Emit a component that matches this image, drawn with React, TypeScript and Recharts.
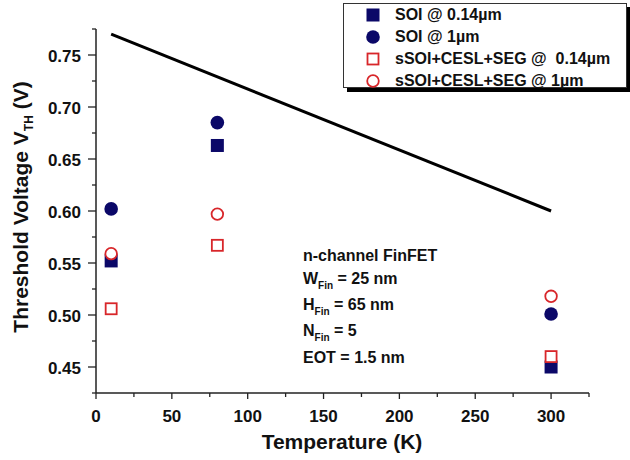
import React from 'react';
import { ScatterChart, Scatter, XAxis, YAxis, Customized } from 'recharts';

const temperatures = [10, 80, 300];
const soi014 = [0.552, 0.663, 0.45];
const soi1 = [0.602, 0.685, 0.501];
const ssoi014 = [0.506, 0.567, 0.46];
const ssoi1 = [0.559, 0.597, 0.518];

const trendTemps = [10, 300];
const trendVth = [0.77, 0.6];

const xTicks = [0, 25, 50, 75, 100, 125, 150, 175, 200, 225, 250, 275, 300, 325];
const yTicks = [0.425, 0.45, 0.475, 0.5, 0.525, 0.55, 0.575, 0.6, 0.625, 0.65, 0.675, 0.7, 0.725, 0.75, 0.775];
const yLabels = ['0.45', '0.50', '0.55', '0.60', '0.65', '0.70', '0.75'];

const NAVY = '#0b0868';
const RED = '#d8262a';
const FONT = '"Liberation Sans", Arial, sans-serif';

const toPoints = (vals: number[]) => temperatures.map((t, i) => ({ x: t, y: vals[i] }));
const trendData = trendTemps.map((t, i) => ({ x: t, y: trendVth[i] }));

const FilledSquare = ({ cx, cy }: any) => <rect x={cx - 6.5} y={cy - 6.5} width={13} height={13} fill={NAVY} />;
const FilledCircle = ({ cx, cy }: any) => <circle cx={cx} cy={cy} r={6.8} fill={NAVY} />;
const OpenSquare = ({ cx, cy }: any) => (
  <rect x={cx - 5.5} y={cy - 5.5} width={11} height={11} fill="#fff" stroke={RED} strokeWidth={1.8} />
);
const OpenCircle = ({ cx, cy }: any) => <circle cx={cx} cy={cy} r={5.8} fill="#fff" stroke={RED} strokeWidth={1.8} />;

const series = [
  { name: 'SOI @ 0.14µm', values: soi014, shape: FilledSquare },
  { name: 'SOI @ 1µm', values: soi1, shape: FilledCircle },
  { name: 'sSOI+CESL+SEG @  0.14µm', values: ssoi014, shape: OpenSquare },
  { name: 'sSOI+CESL+SEG @ 1µm', values: ssoi1, shape: OpenCircle },
];

const XTick = ({ x, y, payload }: any) => {
  const v = payload.value;
  const major = Math.abs(v % 50) < 1e-6;
  return (
    <g>
      <line x1={x} y1={y} x2={x} y2={y + (major ? 6 : 4)} stroke="#222" strokeWidth={1.3} />
      {major && (
        <text x={x} y={y + 29} textAnchor="middle" fontSize={17} fontWeight="bold" fontFamily={FONT} fill="#111">
          {v}
        </text>
      )}
    </g>
  );
};

const YTick = ({ x, y, payload }: any) => {
  const v = payload.value;
  const label = yLabels.find((l) => Math.abs(parseFloat(l) - v) < 1e-6);
  return (
    <g>
      <line x1={x} y1={y} x2={x - (label ? 8 : 4)} y2={y} stroke="#222" strokeWidth={1.3} />
      {label && (
        <text x={x - 15} y={y + 6.5} textAnchor="end" fontSize={17} fontWeight="bold" fontFamily={FONT} fill="#111">
          {label}
        </text>
      )}
    </g>
  );
};

const Annotations = () => {
  const t = { fontSize: 16, fontWeight: 'bold' as const, fontFamily: FONT, fill: '#111' };
  const sub = (main: string, rest: string, y: number) => (
    <text x={303} y={y} {...t}>
      {main}
      <tspan fontSize={10} dy={5}>Fin</tspan>
      <tspan dy={-5}>{rest}</tspan>
    </text>
  );
  return (
    <g>
      <text x={28} y={207} transform="rotate(-90, 28, 207)" textAnchor="middle" fontSize={21} fontWeight="bold" fontFamily={FONT} fill="#111">
        Threshold Voltage V<tspan fontSize={12} dy={5}>TH</tspan>
        <tspan dy={-5}> (V)</tspan>
      </text>
      <text x={342} y={449} textAnchor="middle" fontSize={21} fontWeight="bold" fontFamily={FONT} fill="#111">
        Temperature (K)
      </text>
      <text x={303} y={261} {...t}>n-channel FinFET</text>
      {sub('W', ' = 25 nm', 284)}
      {sub('H', ' = 65 nm', 310)}
      {sub('N', ' = 5', 336)}
      <text x={303} y={363} {...t}>EOT = 1.5 nm</text>
    </g>
  );
};

const LegendBox = () => (
  <div
    style={{
      position: 'absolute',
      left: 343,
      top: 3,
      width: 282,
      height: 83,
      border: '1px solid #333',
      background: '#fff',
      boxShadow: '4px 4px 0 #000',
      fontFamily: FONT,
      fontWeight: 'bold',
      fontSize: 16,
      color: '#111',
    }}
  >
    {series.map((s, i) => {
      const Shape = s.shape;
      return (
        <div key={s.name} style={{ position: 'absolute', left: 0, top: 1 + i * 22, height: 20, width: '100%' }}>
          <svg width={20} height={20} style={{ position: 'absolute', left: 19, top: 0 }}>
            <Shape cx={10} cy={10} />
          </svg>
          <span style={{ position: 'absolute', left: 51, top: 0, whiteSpace: 'pre', lineHeight: '20px' }}>{s.name}</span>
        </div>
      );
    })}
  </div>
);

export default function App() {
  return (
    <div style={{ position: 'absolute', left: 0, top: 0, width: 630, height: 460, background: '#fff' }}>
      <ScatterChart width={630} height={460} margin={{ top: 29, right: 41, bottom: 37, left: 36 }}>
        <XAxis
          type="number"
          dataKey="x"
          domain={[0, 325]}
          ticks={xTicks}
          allowDataOverflow
          height={30}
          tickSize={0}
          tickMargin={0}
          tickLine={false}
          axisLine={{ stroke: '#222', strokeWidth: 1.5 }}
          tick={<XTick />}
          interval={0}
        />
        <YAxis
          type="number"
          dataKey="y"
          domain={[0.425, 0.775]}
          ticks={yTicks}
          allowDataOverflow
          width={60}
          tickSize={0}
          tickMargin={0}
          tickLine={false}
          axisLine={{ stroke: '#222', strokeWidth: 1.5 }}
          tick={<YTick />}
          interval={0}
        />
        <Scatter
          data={trendData}
          line={{ stroke: '#000', strokeWidth: 3 }}
          shape={() => <g />}
          isAnimationActive={false}
        />
        {series.map((s) => (
          <Scatter key={s.name} name={s.name} data={toPoints(s.values)} shape={s.shape} isAnimationActive={false} />
        ))}
        <Customized component={Annotations} />
      </ScatterChart>
      <LegendBox />
    </div>
  );
}
